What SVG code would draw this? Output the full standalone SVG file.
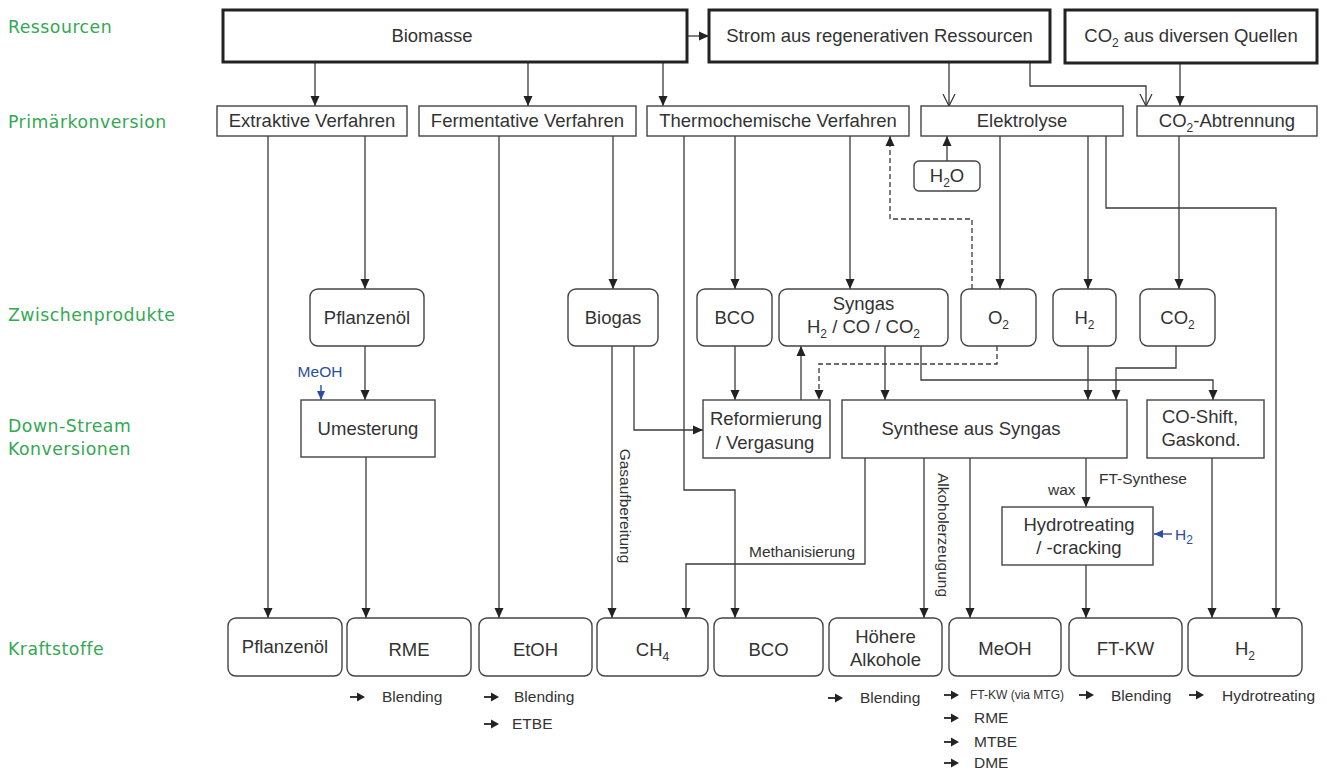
<svg xmlns="http://www.w3.org/2000/svg" xmlns:xlink="http://www.w3.org/1999/xlink" width="1327" height="772" viewBox="0 0 1327 772">
<style>
.thick{fill:#fff;stroke:#222;stroke-width:3}
.box{fill:#fff;stroke:#444;stroke-width:1.4}
.t{font-family:"Liberation Sans",Arial,sans-serif;font-size:18.5px;fill:#333;text-anchor:middle}
.s{font-family:"Liberation Sans",Arial,sans-serif;font-size:15.5px;fill:#333}
.xs{font-family:"Liberation Sans",Arial,sans-serif;font-size:12px;fill:#333}
.blue{fill:#2b4ea2}
.sub{font-size:12px}
.lab{font-family:"DejaVu Sans",Verdana,sans-serif;font-size:17.3px;fill:#34a853;letter-spacing:0.5px}
.ln{fill:none;stroke:#3a3a3a;stroke-width:1.3;marker-end:url(#ah)}
.open{marker-end:url(#ao)}
.dash{stroke-dasharray:5 3}
.bl{fill:none;stroke:#2b4ea2;stroke-width:1.4;marker-end:url(#ab)}
</style>
<defs>
<marker id="ah" markerWidth="10" markerHeight="10" refX="10" refY="5" orient="auto" markerUnits="userSpaceOnUse"><path d="M0,0.5 L10,5 L0,9.5 z" fill="#222"/></marker>
<marker id="ao" markerWidth="13" markerHeight="14" refX="12" refY="7" orient="auto" markerUnits="userSpaceOnUse"><path d="M0,1 L12,7 L0,13" fill="none" stroke="#333" stroke-width="1.2"/></marker>
<marker id="ab" markerWidth="10" markerHeight="10" refX="9" refY="5" orient="auto" markerUnits="userSpaceOnUse"><path d="M0,1 L9,5 L0,9 z" fill="#2b4ea2"/></marker>
<g id="la"><path d="M0,0 H9" stroke="#222" stroke-width="1.8"/><path d="M7,-4.5 L15,0 L7,4.5 z" fill="#222"/></g>
</defs>
<rect width="1327" height="772" fill="#fff"/>

<g id="labels">
<text class="lab" x="8" y="33">Ressourcen</text>
<text class="lab" x="8" y="128">Primärkonversion</text>
<text class="lab" x="8" y="321">Zwischenprodukte</text>
<text class="lab" x="8" y="432">Down-Stream</text>
<text class="lab" x="8" y="455">Konversionen</text>
<text class="lab" x="8" y="655">Kraftstoffe</text>
</g>

<g id="connectors">
<path class="ln" d="M687,36 H709"/>
<path class="ln" d="M315,62 V106"/>
<path class="ln" d="M528,62 V106"/>
<path class="ln" d="M663,62 V106"/>
<path class="ln open" d="M949,62 V106"/>
<path class="ln open" d="M1030,62 V86 H1146 V106"/>
<path class="ln" d="M1180,63 V106"/>
<path class="ln" d="M268,136 V618"/>
<path class="ln" d="M365,136 V289"/>
<path class="ln" d="M499,136 V618"/>
<path class="ln" d="M613,136 V289"/>
<path class="ln" d="M684,136 V490 H735 V618"/>
<path class="ln" d="M735,136 V289"/>
<path class="ln" d="M850,136 V289"/>
<path class="ln dash" d="M972,289 V219 H890 V136"/>
<path class="ln" d="M947,161 V136"/>
<path class="ln" d="M1000,136 V289"/>
<path class="ln" d="M1088,136 V289"/>
<path class="ln" d="M1106,136 V208 H1276 V618"/>
<path class="ln" d="M1179,136 V289"/>
<path class="ln" d="M365,346 V400"/>
<path class="bl" d="M321,385 V400"/>
<path class="ln" d="M366,457 V618"/>
<path class="ln" d="M612,346 V618"/>
<path class="ln" d="M634,346 V430 H703"/>
<path class="ln" d="M735,346 V400"/>
<path class="ln" d="M801,400 V346"/>
<path class="ln dash" d="M997,346 V364 H819 V400"/>
<path class="ln" d="M885,346 V400"/>
<path class="ln" d="M921,346 V380 H1213 V400"/>
<path class="ln" d="M1088,346 V400"/>
<path class="ln" d="M1176,346 V368 H1116 V400"/>
<path class="ln" d="M865,458 V564 H686 V618"/>
<path class="ln" d="M924,458 V618"/>
<path class="ln" d="M970,458 V618"/>
<path class="ln" d="M1086,458 V507"/>
<path class="ln" d="M1086,565 V618"/>
<path class="ln" d="M1212,458 V618"/>
<path class="bl" d="M1172,534 H1154"/>
<text class="s" x="620" y="506" text-anchor="middle" transform="rotate(90 620 506)">Gasaufbereitung</text>
<text class="s" x="938" y="535" text-anchor="middle" transform="rotate(90 938 535)">Alkoholerzeugung</text>
<text class="s" x="855" y="557" text-anchor="end">Methanisierung</text>
<text class="s" x="1099" y="484">FT-Synthese</text>
<text class="s" x="1048" y="495">wax</text>
<text class="s blue" x="320" y="377" text-anchor="middle">MeOH</text>
<text class="s blue" x="1175" y="540">H<tspan class="sub" dy="4">2</tspan></text>
</g>

<g id="n-biomasse"><rect class="thick" x="223" y="10" width="464" height="52"/><text class="t" x="432" y="42">Biomasse</text></g>
<g id="n-strom"><rect class="thick" x="709" y="10" width="341" height="52"/><text class="t" x="879.5" y="42">Strom aus regenerativen Ressourcen</text></g>
<g id="n-co2src"><rect class="thick" x="1065" y="10" width="252" height="53"/><text class="t" x="1191" y="42">CO<tspan class="sub" dy="5">2</tspan><tspan dy="-5"> aus diversen Quellen</tspan></text></g>

<g id="n-extraktiv"><rect class="box" x="217" y="106" width="190" height="30"/><text class="t" x="312" y="127">Extraktive Verfahren</text></g>
<g id="n-ferment"><rect class="box" x="419" y="106" width="217" height="30"/><text class="t" x="527.5" y="127">Fermentative Verfahren</text></g>
<g id="n-thermo"><rect class="box" x="647" y="106" width="262" height="30"/><text class="t" x="778" y="127">Thermochemische Verfahren</text></g>
<g id="n-elektrolyse"><rect class="box" x="921" y="106" width="202" height="30"/><text class="t" x="1022" y="127">Elektrolyse</text></g>
<g id="n-co2abtr"><rect class="box" x="1137" y="106" width="180" height="30"/><text class="t" x="1227" y="127">CO<tspan class="sub" dy="5">2</tspan><tspan dy="-5">-Abtrennung</tspan></text></g>
<g id="n-h2o"><rect class="box" x="914" y="161" width="66" height="30" rx="5"/><text class="t" x="947" y="182">H<tspan class="sub" dy="5">2</tspan><tspan dy="-5">O</tspan></text></g>

<g id="n-pflanzenoel-i"><rect class="box" x="310" y="289" width="114" height="57" rx="8"/><text class="t" x="367" y="324">Pflanzenöl</text></g>
<g id="n-biogas"><rect class="box" x="568" y="289" width="90" height="57" rx="8"/><text class="t" x="613" y="324">Biogas</text></g>
<g id="n-bco-i"><rect class="box" x="697" y="289" width="75" height="57" rx="8"/><text class="t" x="734.5" y="324">BCO</text></g>
<g id="n-syngas"><rect class="box" x="779" y="289" width="169" height="57" rx="8"/><text class="t" x="863.5" y="310">Syngas</text><text class="t" x="863.5" y="333">H<tspan class="sub" dy="5">2</tspan><tspan dy="-5"> / CO / CO</tspan><tspan class="sub" dy="5">2</tspan></text></g>
<g id="n-o2"><rect class="box" x="961" y="289" width="75" height="57" rx="8"/><text class="t" x="998.5" y="324">O<tspan class="sub" dy="5">2</tspan></text></g>
<g id="n-h2-i"><rect class="box" x="1053" y="289" width="63" height="57" rx="8"/><text class="t" x="1084.5" y="324">H<tspan class="sub" dy="5">2</tspan></text></g>
<g id="n-co2-i"><rect class="box" x="1140" y="289" width="75" height="57" rx="8"/><text class="t" x="1177.5" y="324">CO<tspan class="sub" dy="5">2</tspan></text></g>

<g id="n-umesterung"><rect class="box" x="301" y="400" width="134" height="57"/><text class="t" x="368" y="435">Umesterung</text></g>
<g id="n-reform"><rect class="box" x="703" y="400" width="127" height="58"/><text class="t" x="766" y="425">Reformierung</text><text class="t" x="765" y="449">/ Vergasung</text></g>
<g id="n-synthese"><rect class="box" x="842" y="400" width="285" height="58"/><text class="t" x="971" y="435">Synthese aus Syngas</text></g>
<g id="n-coshift"><rect class="box" x="1147" y="400" width="117" height="58"/><text class="t" x="1200" y="423">CO-Shift,</text><text class="t" x="1201" y="446">Gaskond.</text></g>
<g id="n-hydro"><rect class="box" x="1002" y="507" width="151" height="58"/><text class="t" x="1079" y="531">Hydrotreating</text><text class="t" x="1079" y="554">/ -cracking</text></g>

<g id="n-pflanzenoel-k"><rect class="box" x="228" y="618" width="114" height="58" rx="8"/><text class="t" x="285" y="653">Pflanzenöl</text></g>
<g id="n-rme"><rect class="box" x="347" y="618" width="124" height="58" rx="8"/><text class="t" x="409" y="656">RME</text></g>
<g id="n-etoh"><rect class="box" x="479" y="618" width="113" height="58" rx="8"/><text class="t" x="535.5" y="656">EtOH</text></g>
<g id="n-ch4"><rect class="box" x="597" y="618" width="111" height="58" rx="8"/><text class="t" x="652.5" y="656">CH<tspan class="sub" dy="5">4</tspan></text></g>
<g id="n-bco-k"><rect class="box" x="714" y="618" width="109" height="58" rx="8"/><text class="t" x="768.5" y="656">BCO</text></g>
<g id="n-alkohole"><rect class="box" x="829" y="618" width="113" height="58" rx="8"/><text class="t" x="885.5" y="643">Höhere</text><text class="t" x="885.5" y="666">Alkohole</text></g>
<g id="n-meoh"><rect class="box" x="949" y="618" width="112" height="58" rx="8"/><text class="t" x="1005" y="655">MeOH</text></g>
<g id="n-ftkw"><rect class="box" x="1069" y="618" width="113" height="58" rx="8"/><text class="t" x="1125.5" y="655">FT-KW</text></g>
<g id="n-h2-k"><rect class="box" x="1188" y="618" width="114" height="58" rx="8"/><text class="t" x="1245" y="655">H<tspan class="sub" dy="5">2</tspan></text></g>

<g id="uses">
<use href="#la" x="350" y="697"/><text class="s" x="382" y="702">Blending</text>
<use href="#la" x="484" y="697"/><text class="s" x="514" y="702">Blending</text>
<use href="#la" x="484" y="724"/><text class="s" x="512" y="729">ETBE</text>
<use href="#la" x="828" y="698"/><text class="s" x="860" y="703">Blending</text>
<use href="#la" x="944" y="695"/><text class="xs" x="970" y="699">FT-KW (via MTG)</text>
<use href="#la" x="1079" y="695"/><text class="s" x="1111" y="701">Blending</text>
<use href="#la" x="1189" y="695"/><text class="s" x="1222" y="701">Hydrotreating</text>
<use href="#la" x="944" y="718"/><text class="s" x="974" y="723">RME</text>
<use href="#la" x="944" y="742"/><text class="s" x="974" y="747">MTBE</text>
<use href="#la" x="944" y="763"/><text class="s" x="974" y="768">DME</text>
</g>
</svg>
